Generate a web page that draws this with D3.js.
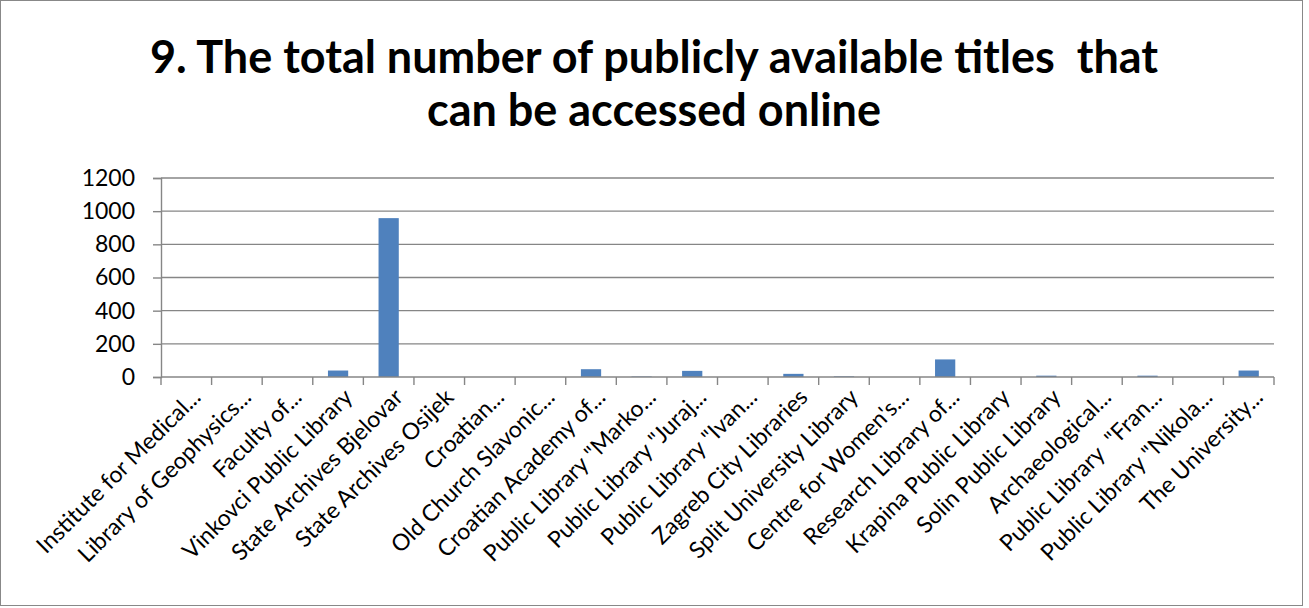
<!DOCTYPE html>
<html><head><meta charset="utf-8">
<script src="https://cdn.jsdelivr.net/npm/d3@7"></script>
<style>body{margin:0;background:#fff}svg{display:block}</style>
</head><body>
<svg id="c" width="1309" height="608"></svg>
<script>
const categories = ["Institute for Medical...","Library of Geophysics...","Faculty of...","Vinkovci Public Library","State Archives Bjelovar","State Archives Osijek","Croatian...","Old Church Slavonic...","Croatian Academy of...","Public Library \"Marko...","Public Library \"Juraj...","Public Library \"Ivan...","Zagreb City Libraries","Split University Library","Centre for Women's...","Research Library of...","Krapina Public Library","Solin Public Library","Archaeological...","Public Library  \"Fran...","Public Library \"Nikola...","The University..."];
const values = [0,0,0,39,958,0,0,0,47,3,37,0,19,4,0,106,0,8,0,8,0,39];
const yTicks = [0,200,400,600,800,1000,1200];
const titleLines = ["9. The total number of publicly available titles  that","can be accessed online"];

const svg = d3.select("#c");
const font = "Lato, 'Open Sans', sans-serif";
svg.append("rect").attr("x",0.5).attr("y",0.5).attr("width",1302).attr("height",605)
  .attr("fill","#fff").attr("stroke","#888").attr("stroke-width",1);

const m = {l:161, r:1274, t:178, b:377};
const xb = d3.scaleBand().domain(categories).range([m.l,m.r]);
const barW = xb.bandwidth()*0.4;
const y = d3.scaleLinear().domain([0,1200]).range([m.b,m.t]);
const gray = "#868686";

// gridlines
svg.append("g").selectAll("line").data(yTicks.filter(d=>d>0)).join("line")
  .attr("x1",m.l).attr("x2",m.r).attr("y1",d=>y(d)).attr("y2",d=>y(d))
  .attr("stroke",gray).attr("stroke-width",1.4);

// y axis
const ya = svg.append("g").attr("transform",`translate(${m.l},0)`)
  .call(d3.axisLeft(y).tickValues(yTicks).tickFormat(d3.format("d")).tickSize(8).tickPadding(18));
ya.select(".domain").attr("stroke",gray).attr("stroke-width",1.4);
ya.selectAll(".tick line").attr("stroke",gray).attr("stroke-width",1.4);
ya.selectAll("text").attr("font-family",font).attr("font-size",23).attr("fill","#000");

// bars
svg.append("g").selectAll("rect").data(values).join("rect")
  .attr("x",(d,i)=>xb(categories[i])+xb.bandwidth()/2-barW/2).attr("width",barW)
  .attr("y",d=>y(d)).attr("height",d=>y(0)-y(d))
  .attr("fill","#4f81bd");

// x axis
const boundaries = categories.map(c=>xb(c)).concat([m.r]);
const xa = svg.append("g");
xa.append("line").attr("x1",m.l).attr("x2",m.r).attr("y1",m.b).attr("y2",m.b)
  .attr("stroke",gray).attr("stroke-width",1.4);
xa.selectAll("line.t").data(boundaries).join("line").attr("class","t")
  .attr("x1",d=>d).attr("x2",d=>d).attr("y1",m.b).attr("y2",m.b+8)
  .attr("stroke",gray).attr("stroke-width",1.4);
xa.selectAll("text").data(categories).join("text")
  .attr("transform",d=>`translate(${xb(d)+xb.bandwidth()/2+10},${m.b+16}) rotate(-45)`)
  .attr("text-anchor","end").attr("dy","0.35em")
  .attr("font-family",font).attr("font-size",23).attr("fill","#000")
  .style("white-space","pre").text(d=>d);

// title
svg.append("g").selectAll("text").data(titleLines).join("text")
  .attr("x",654).attr("y",(d,i)=>73+i*53).attr("text-anchor","middle")
  .attr("font-family",font).attr("font-weight","bold").attr("font-size",45).attr("fill","#000")
  .style("white-space","pre").text(d=>d);
</script>
</body></html>
